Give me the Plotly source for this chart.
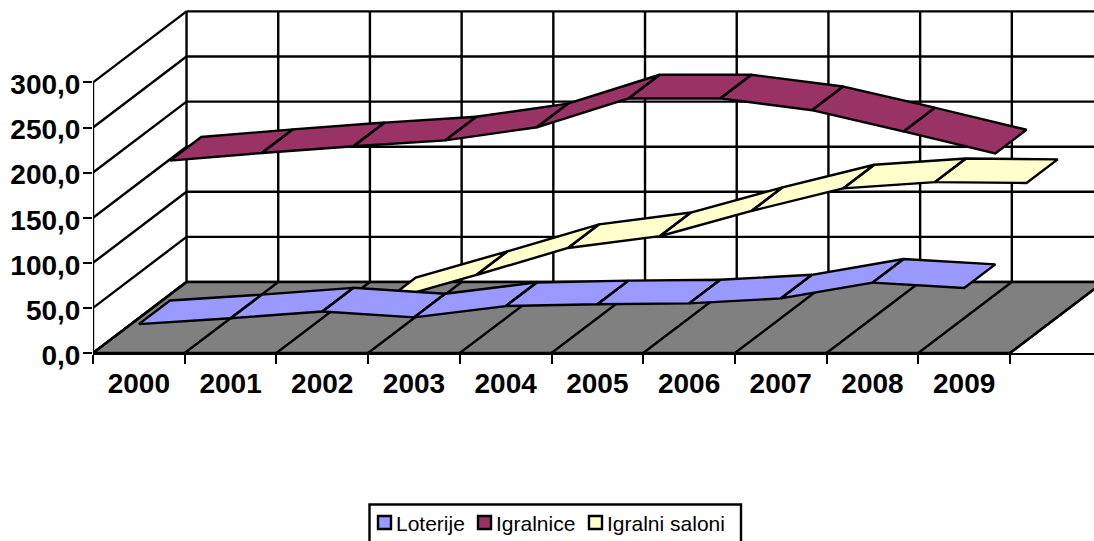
import plotly.graph_objects as go

categories = ["2000", "2001", "2002", "2003", "2004", "2005", "2006", "2007", "2008", "2009"]
loterije = [32, 38.5, 46, 39.5, 52, 54, 55, 60.5, 78, 72]
igralnice = [187, 195.5, 203, 209.5, 224, 256, 256, 243, 219.5, 195]
igralni_saloni = [None, None, 5, 34, 64, 77, 105, 130, 137, 136]
y_ticks = [0, 50, 100, 150, 200, 250, 300]
y_tick_labels = ["0,0", "50,0", "100,0", "150,0", "200,0", "250,0", "300,0"]

DEPTH_X = 1.02   # oblique shift of the full floor depth, in category units
DEPTH_Y = 78.7   # same, in value units
PX_X = 91.7
PX_Y = 0.902
W, H = 1094, 541
ML, MB = 93, 188
INK = "#000000"
LW = 2.4
FONT = "Liberation Sans, Arial, sans-serif"


def proj(c, v, d):
    return c + d * DEPTH_X, v + d * DEPTH_Y


def ribbon(values, d0, d1):
    xs, ys = [], []
    for i in range(len(values) - 1):
        a, b = values[i], values[i + 1]
        if a is None or b is None:
            continue
        pts = [proj(i, a, d0), proj(i + 1, b, d0), proj(i + 1, b, d1), proj(i, a, d1), proj(i, a, d0)]
        xs += [p[0] for p in pts] + [None]
        ys += [p[1] for p in pts] + [None]
    return xs, ys


def segs(lines):
    xs, ys = [], []
    for (p, q) in lines:
        xs += [p[0], q[0], None]
        ys += [p[1], q[1], None]
    return xs, ys


n = len(categories)
left, right = -0.5, n - 0.5
top = y_ticks[-1]
fig = go.Figure()

# Walls
wall = []
for v in y_ticks:
    wall.append((proj(left, v, 0), proj(left, v, 1)))
    wall.append((proj(left, v, 1), proj(right, v, 1)))
for k in range(n + 1):
    wall.append((proj(left + k, 0, 1), proj(left + k, top, 1)))
wall.append((proj(left, 0, 0), proj(left, top, 0)))
x, y = segs(wall)
fig.add_trace(go.Scatter(x=x, y=y, mode="lines", line=dict(color=INK, width=LW), showlegend=False, hoverinfo="skip"))

# Floor
corners = [proj(left, 0, 0), proj(right, 0, 0), proj(right, 0, 1), proj(left, 0, 1), proj(left, 0, 0)]
fig.add_trace(go.Scatter(x=[p[0] for p in corners], y=[p[1] for p in corners], mode="lines", fill="toself",
                         fillcolor="#808080", line=dict(color=INK, width=LW), showlegend=False, hoverinfo="skip"))
x, y = segs([(proj(left + k, 0, 0), proj(left + k, 0, 1)) for k in range(n + 1)])
fig.add_trace(go.Scatter(x=x, y=y, mode="lines", line=dict(color=INK, width=LW), showlegend=False, hoverinfo="skip"))

# Ribbons, back to front
series = [
    ("Igralni saloni", igralni_saloni, "#FFFFCC", 2 / 3, 1),
    ("Igralnice", igralnice, "#993366", 1 / 3, 2 / 3),
    ("Loterije", loterije, "#9999FF", 0, 1 / 3),
]
for name, vals, col, d0, d1 in series:
    x, y = ribbon(vals, d0, d1)
    fig.add_trace(go.Scatter(x=x, y=y, mode="lines", fill="toself", fillcolor=col, name=name,
                             line=dict(color=INK, width=LW), showlegend=False))


# Legend box, keys and labels (pixel-placed in paper space)
def px(v):
    return v / W


def py(v):
    return 1 - v / H


shapes = [dict(type="rect", xref="paper", yref="paper", x0=px(369.5), x1=px(741), y0=py(504.5), y1=py(548),
               line=dict(color=INK, width=2.4), fillcolor="white", layer="above")]
annotations = []
key_left = {"Loterije": 378, "Igralnice": 478, "Igralni saloni": 589}
text_left = {"Loterije": 396, "Igralnice": 496, "Igralni saloni": 607}
for name, vals, col, d0, d1 in reversed(series):
    shapes.append(dict(type="rect", xref="paper", yref="paper", x0=px(key_left[name]), x1=px(key_left[name] + 13),
                       y0=py(516), y1=py(529), line=dict(color=INK, width=2.4), fillcolor=col, layer="above"))
    annotations.append(dict(xref="paper", yref="paper", x=px(text_left[name]), y=py(523), text=name,
                            showarrow=False, xanchor="left", yanchor="middle",
                            font=dict(size=21, family=FONT, color=INK), borderpad=0, borderwidth=0))

fig.update_layout(
    width=W, height=H, autosize=False,
    margin=dict(l=0, r=0, t=0, b=0, pad=0, autoexpand=False),
    paper_bgcolor="white", plot_bgcolor="white",
    font=dict(family=FONT, color=INK),
    showlegend=False,
    shapes=shapes,
    annotations=annotations,
    xaxis=dict(domain=[ML / W, 1], range=[left, left + (W - ML) / PX_X], showgrid=False, zeroline=False,
               showline=True, linecolor=INK, linewidth=2.4,
               tickmode="array", tickvals=list(range(n)), ticktext=categories, ticks="",
               tickfont=dict(size=28, family=FONT, weight="bold"),
               ticklabelstandoff=4,
               minor=dict(tickmode="array", tickvals=[left + k for k in range(n + 1)], ticks="outside",
                          ticklen=9, tickwidth=2.4, tickcolor=INK, showgrid=False)),
    yaxis=dict(domain=[MB / H, 1], range=[0, (H - MB) / PX_Y], showgrid=False, zeroline=False, showline=False,
               tickmode="array", tickvals=y_ticks, ticktext=y_tick_labels,
               ticks="outside", ticklen=9, tickwidth=2.4, tickcolor=INK,
               ticklabelstandoff=-3, ticklabelshift=2,
               tickfont=dict(size=28, family=FONT, weight="bold")),
)
fig.write_html("out.html", config={"displayModeBar": False},
               post_script="document.body.style.margin='0';document.body.style.overflow='hidden';")
